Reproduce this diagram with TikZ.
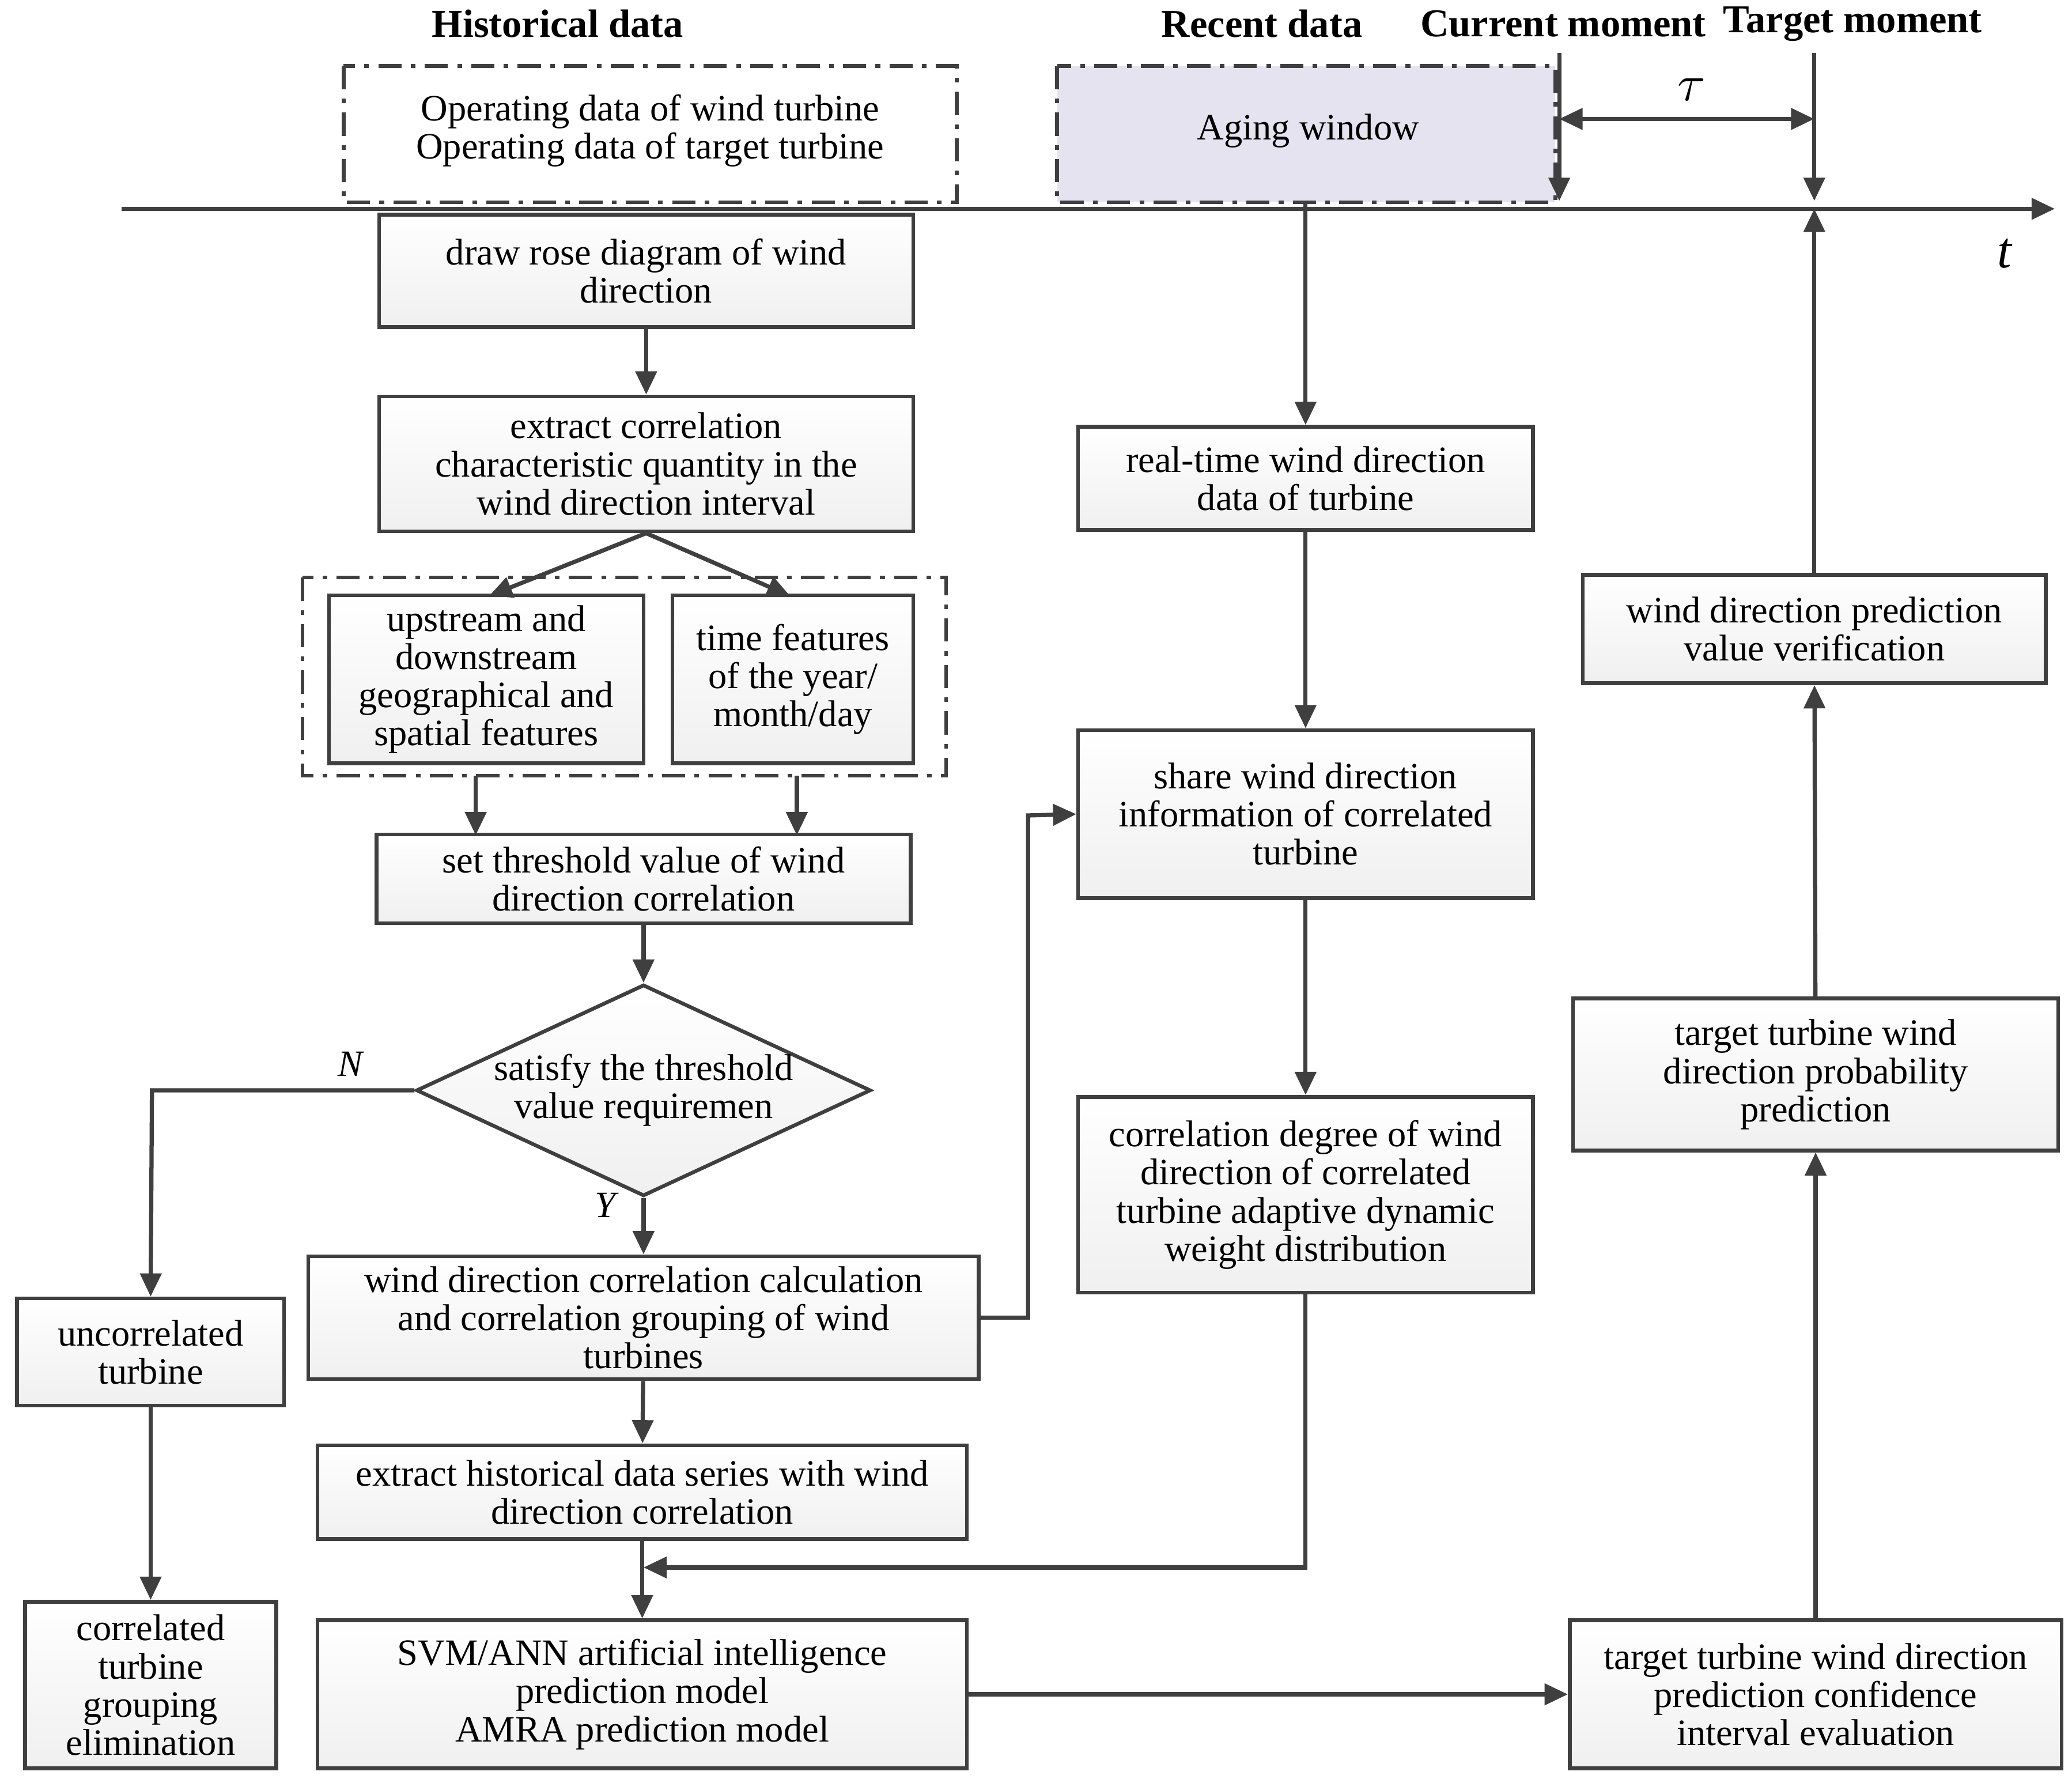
\documentclass[tikz,border=0pt]{standalone}
\usepackage{fontspec}
\setmainfont{Liberation Serif}
\usetikzlibrary{arrows.meta,shapes.geometric}
\definecolor{ln}{HTML}{3F3F3F}
\definecolor{aging}{HTML}{E6E3F0}
\tikzset{
  box/.style={draw=ln, line width=0.8pt, top color=white, bottom color=gray!12, align=center, inner sep=0pt},
  grp/.style={draw=ln, line width=0.8pt, dash pattern=on 5pt off 2pt on 1pt off 2pt},
  arr/.style={draw=ln, line width=0.9pt, -{Triangle[length=5pt,width=4.5pt]}},
  con/.style={draw=ln, line width=0.9pt},
  hd/.style={font=\fontsize{8.5}{9}\selectfont\bfseries}
}
\begin{document}
\begin{tikzpicture}[x=0.01cm,y=-0.01cm,font=\fontsize{8}{8.2}\selectfont]
\useasboundingbox (0,0) rectangle (1568,1346);
% time axis
\coordinate (t0) at (92,158);
\coordinate (t1) at (1555,158);
\draw[arr] (t0) -- (t1);
\node at (1517,192) {\fontsize{11}{11}\selectfont\itshape t};
% headers
\node[hd] at (422,18) {Historical data};
\node[hd] at (955,18) {Recent data};
\node[hd] at (1183,18) {Current moment};
\node[hd] at (1402,18) {Target moment};
% windows
\draw[grp] (260,50) rectangle (724,153);
\node[align=center] (hist) at (492,99) {Operating data of wind turbine\\Operating data of target turbine};
\draw[grp, fill=aging] (800,50) rectangle (1177,153);
\node (aw) at (990,99) {Aging window};
\coordinate (cm0) at (1180,40);
\coordinate (cm1) at (1180,152);
\coordinate (tm0) at (1373,40);
\coordinate (tm1) at (1373,152);
\draw[arr] (cm0) -- (cm1);
\draw[arr] (tm0) -- (tm1);
\coordinate (ta) at (1180,90);
\coordinate (tb) at (1373,90);
\draw[arr, {Triangle[length=5pt,width=4.5pt]}-{Triangle[length=5pt,width=4.5pt]}] (ta) -- (tb);
\node at (1280,68) {\fontsize{11}{11}\selectfont$\tau$};
% left column
\node[box, minimum width=4.04cm, minimum height=0.85cm] (rose) at (489,205) {draw rose diagram of wind\\direction};
\node[box, minimum width=4.04cm, minimum height=1.02cm] (ext) at (489,351) {extract correlation\\characteristic quantity in the\\wind direction interval};
\draw[grp] (229,437) rectangle (716,587);
\node[box, minimum width=2.38cm, minimum height=1.27cm] (geo) at (368,514) {upstream and\\downstream\\geographical and\\spatial features};
\node[box, minimum width=1.82cm, minimum height=1.27cm] (time) at (600,514) {time features\\of the year/\\month/day};
\node[box, minimum width=4.04cm, minimum height=0.67cm] (thr) at (487,665) {set threshold value of wind\\direction correlation};
\node[draw=ln, line width=0.8pt, diamond, aspect=2.15, minimum width=3.23cm, minimum height=1.5cm, inner sep=0pt, top color=white, bottom color=gray!12, align=center] (sat) at (487,825) {satisfy the threshold\\value requiremen};
\node[box, minimum width=2.02cm, minimum height=0.81cm] (unc) at (114,1023) {uncorrelated\\turbine};
\node[box, minimum width=1.9cm, minimum height=1.26cm] (elim) at (114,1275) {correlated\\turbine\\grouping\\elimination};
\node[box, minimum width=5.07cm, minimum height=0.93cm] (calc) at (487,997) {wind direction correlation calculation\\and correlation grouping of wind\\turbines};
\node[box, minimum width=4.91cm, minimum height=0.71cm] (hser) at (486,1129) {extract historical data series with wind\\direction correlation};
\node[box, minimum width=4.91cm, minimum height=1.12cm] (svm) at (486,1282) {SVM/ANN artificial intelligence\\prediction model\\AMRA prediction model};
% middle column
\node[box, minimum width=3.44cm, minimum height=0.78cm] (rt) at (988,362) {real-time wind direction\\data of turbine};
\node[box, minimum width=3.44cm, minimum height=1.27cm] (share) at (988,616) {share wind direction\\information of correlated\\turbine};
\node[box, minimum width=3.44cm, minimum height=1.48cm] (deg) at (988,904) {correlation degree of wind\\direction of correlated\\turbine adaptive dynamic\\weight distribution};
% right column
\node[box, minimum width=3.72cm, minimum height=1.12cm] (conf) at (1374,1282) {target turbine wind direction\\prediction confidence\\interval evaluation};
\node[box, minimum width=3.67cm, minimum height=1.15cm] (prob) at (1374,813) {target turbine wind\\direction probability\\prediction};
\node[box, minimum width=3.5cm, minimum height=0.82cm] (ver) at (1373,476) {wind direction prediction\\value verification};
% connectors
\draw[arr] (rose) -- (ext);
\draw[arr] (ext.south) -- (370,451);
\draw[arr] (ext.south) -- (598,451);
\draw[arr] (360,587) -- (360,632);
\draw[arr] (603,587) -- (603,632);
\draw[arr] (thr) -- (sat);
\draw[arr] (sat.west) -- (115,825) -- (unc.north);
\node at (265,805) {\itshape N};
\draw[arr] (sat) -- (calc);
\node at (458,912) {\itshape Y};
\draw[arr] (unc) -- (elim);
\draw[arr] (calc) -- (hser);
\draw[arr] (hser) -- (svm);
\draw[arr] (calc.east) -- (778,997) -- (778,617) -- (share.west);
\draw[arr] (988,153) -- (rt.north);
\draw[arr] (rt) -- (share);
\draw[arr] (share) -- (deg);
\draw[arr] (deg.south) -- (988,1186) -- (487,1186);
\draw[arr] (svm.east) -- (conf.west);
\draw[arr] (conf) -- (prob);
\draw[arr] (prob) -- (ver);
\draw[arr] (ver.north) -- (1373,158);
\end{tikzpicture}
\end{document}
